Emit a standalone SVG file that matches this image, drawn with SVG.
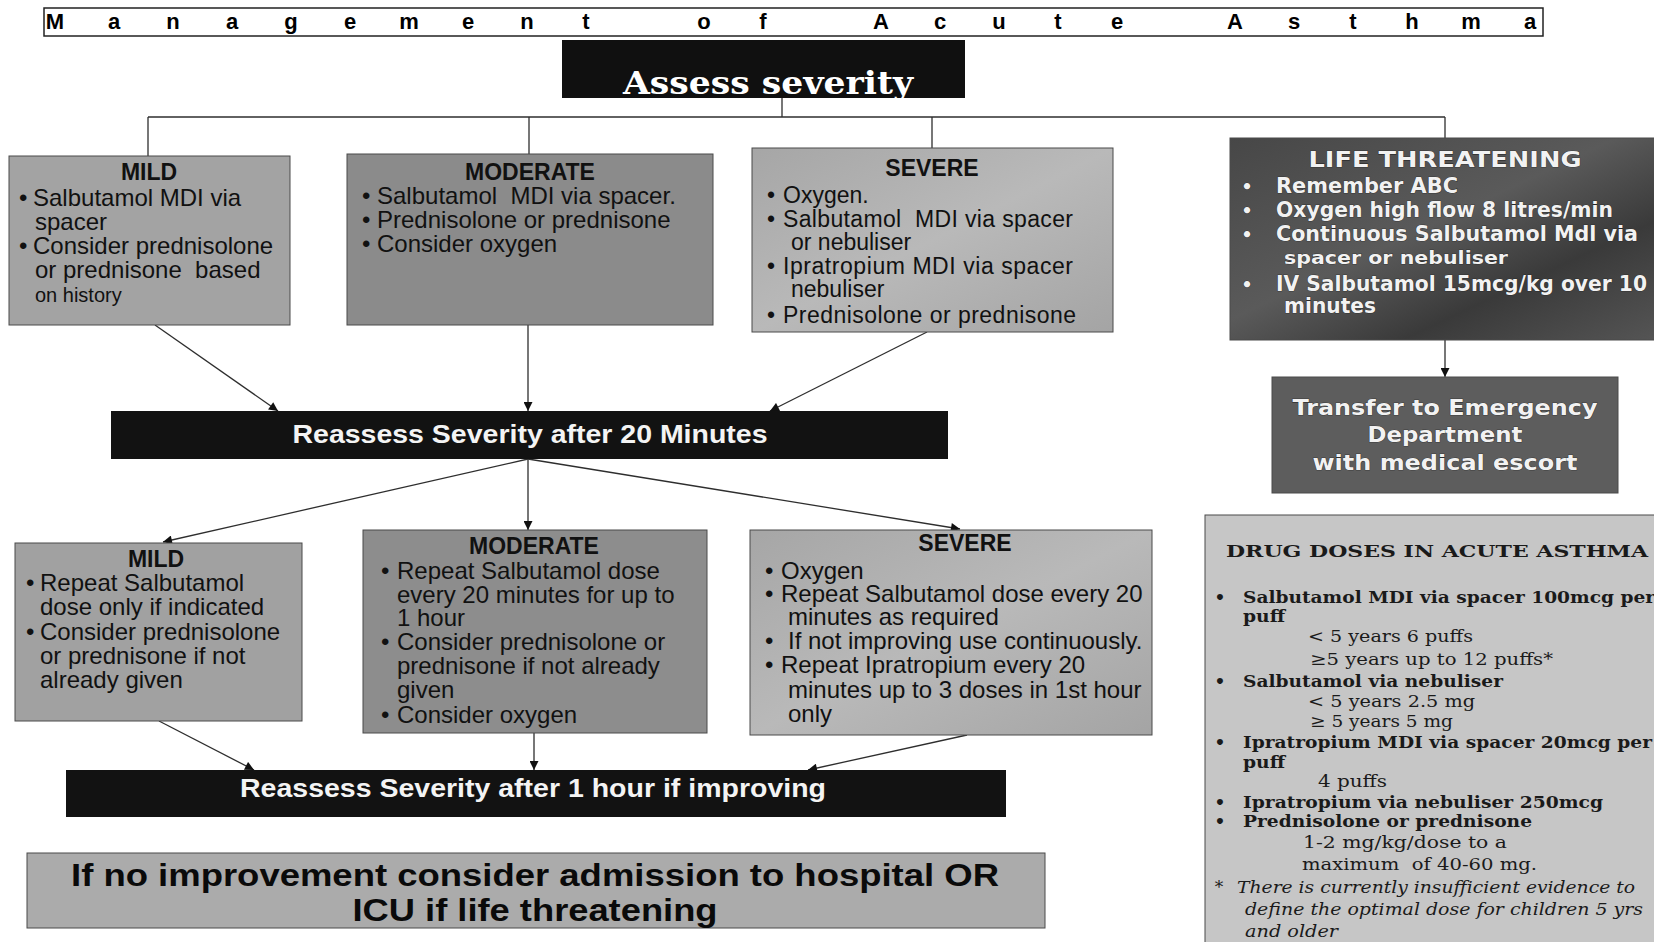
<svg xmlns="http://www.w3.org/2000/svg" width="1654" height="942" viewBox="0 0 1654 942">
  <style>
    .bg { fill: #ffffff; }
    .box { stroke: #4a4a4a; stroke-width: 1; }
    .ttl { font-family: "Liberation Sans", Arial, sans-serif; font-weight: bold; font-size: 22px; fill: #000; }
    .hd { font-family: "Liberation Sans", Arial, sans-serif; font-weight: bold; font-size: 23px; fill: #111; text-anchor: middle; }
    .tx { font-family: "Liberation Sans", Arial, sans-serif; font-size: 24px; fill: #111; }
    .tc { font-size: 23px; }
    .sm { font-size: 20px; }
    .bar { font-family: "Liberation Sans", Arial, sans-serif; font-weight: bold; fill: #f4f4f4; text-anchor: middle; }
    .big { font-family: "Liberation Sans", Arial, sans-serif; font-weight: bold; fill: #0a0a0a; text-anchor: middle; font-size: 31px; }
    .lt { font-family: "DejaVu Sans", Verdana, sans-serif; font-weight: bold; fill: #f2f2f2; stroke: #1c1c1c; stroke-width: 0.7; paint-order: stroke; }
    .ds { font-family: "DejaVu Serif", "Liberation Serif", serif; font-size: 17px; fill: #1a1a1a; }
    .dsb { font-weight: bold; }
    .dsi { font-style: italic; }
    .conn line { stroke: #2e2e2e; stroke-width: 1.3; fill: none; }
  </style>
  <defs>
    <marker id="arr" viewBox="0 0 10 10" refX="10" refY="5" markerWidth="11" markerHeight="9" markerUnits="userSpaceOnUse" orient="auto">
      <path d="M0,0 L10,5 L0,10 z" fill="#111"/>
    </marker>
    <linearGradient id="gLife" x1="0" y1="0" x2="1" y2="1">
      <stop offset="0" stop-color="#474747"/>
      <stop offset="0.45" stop-color="#5a5a5a"/>
      <stop offset="0.7" stop-color="#3a3a3a"/>
      <stop offset="1" stop-color="#555555"/>
    </linearGradient>
    <linearGradient id="gSev" x1="0" y1="0" x2="1" y2="1">
      <stop offset="0" stop-color="#a6a6a6"/>
      <stop offset="0.5" stop-color="#b9b9b9"/>
      <stop offset="1" stop-color="#a4a4a4"/>
    </linearGradient>
  </defs>

  <rect class="bg" x="0" y="0" width="1654" height="942"/>

  <!-- heading strip -->
  <g id="heading">
    <rect x="44" y="8" width="1499" height="28" fill="#fff" stroke="#222" stroke-width="1.5"/>
    <text class="ttl" text-anchor="middle" y="29" x="55 114 173 232 291 350 409 468 527 586 645 704 763 822 881 940 999 1058 1117 1176 1235 1294 1353 1412 1471 1530">Management of Acute Asthma</text>
  </g>

  <!-- connectors -->
  <g id="connectors" class="conn">
    <line x1="782" y1="98" x2="782" y2="117"/>
    <line x1="148" y1="117" x2="1445" y2="117"/>
    <line x1="148" y1="117" x2="148" y2="156"/>
    <line x1="529" y1="117" x2="529" y2="154"/>
    <line x1="932" y1="117" x2="932" y2="148"/>
    <line x1="1445" y1="117" x2="1445" y2="138"/>
    <line x1="1445" y1="340" x2="1445" y2="377" marker-end="url(#arr)"/>
    <line x1="155" y1="325" x2="278" y2="411" marker-end="url(#arr)"/>
    <line x1="528" y1="325" x2="528" y2="411" marker-end="url(#arr)"/>
    <line x1="927" y1="332" x2="770" y2="411" marker-end="url(#arr)"/>
    <line x1="528" y1="459" x2="163" y2="542" marker-end="url(#arr)"/>
    <line x1="528" y1="459" x2="528" y2="530" marker-end="url(#arr)"/>
    <line x1="528" y1="459" x2="960" y2="529" marker-end="url(#arr)"/>
    <line x1="159" y1="721" x2="254" y2="770" marker-end="url(#arr)"/>
    <line x1="534" y1="733" x2="534" y2="770" marker-end="url(#arr)"/>
    <line x1="967" y1="735" x2="808" y2="770" marker-end="url(#arr)"/>
  </g>

  <!-- start -->
  <g id="assess">
    <rect x="562" y="40" width="403" height="58" fill="#101010"/>
    <text x="768" y="94" text-anchor="middle" font-family="'DejaVu Serif', 'Liberation Serif', serif" font-weight="bold" font-size="31" fill="#fff" textLength="290" lengthAdjust="spacingAndGlyphs">Assess severity</text>
  </g>

  <!-- first assessment -->
  <g id="mild1">
    <rect class="box" x="9" y="156" width="281" height="169" fill="#a3a3a3"/>
    <text class="hd" x="149" y="180">MILD</text>
    <text class="tx" x="19" y="206">•</text>
    <text class="tx" x="33" y="206">Salbutamol MDI via</text>
    <text class="tx" x="35" y="230">spacer</text>
    <text class="tx" x="19" y="254">•</text>
    <text class="tx" x="33" y="254">Consider prednisolone</text>
    <text class="tx" x="35" y="278" xml:space="preserve">or prednisone  based</text>
    <text class="tx sm" x="35" y="302">on history</text>
  </g>

  <g id="moderate1">
    <rect class="box" x="347" y="154" width="366" height="171" fill="#8b8b8b"/>
    <text class="hd" x="530" y="180">MODERATE</text>
    <text class="tx" x="362" y="204">•</text>
    <text class="tx" x="377" y="204" xml:space="preserve">Salbutamol  MDI via spacer.</text>
    <text class="tx" x="362" y="228">•</text>
    <text class="tx" x="377" y="228">Prednisolone or prednisone</text>
    <text class="tx" x="362" y="252">•</text>
    <text class="tx" x="377" y="252">Consider oxygen</text>
  </g>

  <g id="severe1">
    <rect class="box" x="752" y="148" width="361" height="184" fill="url(#gSev)"/>
    <text class="hd" x="932" y="176">SEVERE</text>
    <text class="tx tc" x="767" y="203">•</text>
    <text class="tx tc" x="783" y="203">Oxygen.</text>
    <text class="tx tc" x="767" y="227">•</text>
    <text class="tx tc" x="783" y="227" xml:space="preserve" textLength="290" lengthAdjust="spacing">Salbutamol  MDI via spacer</text>
    <text class="tx tc" x="791" y="250">or nebuliser</text>
    <text class="tx tc" x="767" y="274">•</text>
    <text class="tx tc" x="783" y="274" textLength="290" lengthAdjust="spacing">Ipratropium MDI via spacer</text>
    <text class="tx tc" x="791" y="297">nebuliser</text>
    <text class="tx tc" x="767" y="323">•</text>
    <text class="tx tc" x="783" y="323" textLength="293" lengthAdjust="spacing">Prednisolone or prednisone</text>
  </g>

  <g id="life">
    <rect class="box" x="1230" y="138" width="430" height="202" fill="url(#gLife)"/>
    <text class="lt" x="1445" y="167" text-anchor="middle" font-size="22" textLength="273" lengthAdjust="spacingAndGlyphs">LIFE THREATENING</text>
    <text class="lt" x="1247" y="193" font-size="18" text-anchor="middle">•</text>
    <text class="lt" x="1276" y="193" font-size="20.5" textLength="182" lengthAdjust="spacingAndGlyphs">Remember ABC</text>
    <text class="lt" x="1247" y="217" font-size="18" text-anchor="middle">•</text>
    <text class="lt" x="1276" y="217" font-size="20.5" textLength="337" lengthAdjust="spacingAndGlyphs">Oxygen high flow 8 litres/min</text>
    <text class="lt" x="1247" y="241" font-size="18" text-anchor="middle">•</text>
    <text class="lt" x="1276" y="241" font-size="20.5" textLength="362" lengthAdjust="spacingAndGlyphs">Continuous Salbutamol Mdl via</text>
    <text class="lt" x="1284" y="264" font-size="18" textLength="224" lengthAdjust="spacingAndGlyphs">spacer or nebuliser</text>
    <text class="lt" x="1247" y="291" font-size="18" text-anchor="middle">•</text>
    <text class="lt" x="1276" y="291" font-size="20.5" textLength="371" lengthAdjust="spacingAndGlyphs">IV Salbutamol 15mcg/kg over 10</text>
    <text class="lt" x="1284" y="313" font-size="20.5" textLength="92" lengthAdjust="spacingAndGlyphs">minutes</text>
  </g>

  <g id="transfer">
    <rect class="box" x="1272" y="377" width="346" height="116" fill="#5d5d5d"/>
    <text class="lt" x="1445" y="415" text-anchor="middle" font-size="22" textLength="305" lengthAdjust="spacingAndGlyphs">Transfer to Emergency</text>
    <text class="lt" x="1445" y="442" text-anchor="middle" font-size="22" textLength="155" lengthAdjust="spacingAndGlyphs">Department</text>
    <text class="lt" x="1445" y="470" text-anchor="middle" font-size="22" textLength="265" lengthAdjust="spacingAndGlyphs">with medical escort</text>
  </g>

  <g id="reassess20">
    <rect x="111" y="411" width="837" height="48" fill="#121212"/>
    <text class="bar" x="530" y="443" font-size="26" textLength="475" lengthAdjust="spacingAndGlyphs">Reassess Severity after 20 Minutes</text>
  </g>

  <!-- second assessment -->
  <g id="mild2">
    <rect class="box" x="15" y="543" width="287" height="178" fill="#a1a1a1"/>
    <text class="hd" x="156" y="567">MILD</text>
    <text class="tx" x="26" y="591">•</text>
    <text class="tx" x="40" y="591">Repeat Salbutamol</text>
    <text class="tx" x="40" y="615">dose only if indicated</text>
    <text class="tx" x="26" y="640">•</text>
    <text class="tx" x="40" y="640">Consider prednisolone</text>
    <text class="tx" x="40" y="664">or prednisone if not</text>
    <text class="tx" x="40" y="688">already given</text>
  </g>

  <g id="moderate2">
    <rect class="box" x="363" y="530" width="344" height="203" fill="#8d8d8d"/>
    <text class="hd" x="534" y="554">MODERATE</text>
    <text class="tx" x="381" y="579">•</text>
    <text class="tx" x="397" y="579">Repeat Salbutamol dose</text>
    <text class="tx" x="397" y="603">every 20 minutes for up to</text>
    <text class="tx" x="397" y="626">1 hour</text>
    <text class="tx" x="381" y="650">•</text>
    <text class="tx" x="397" y="650">Consider prednisolone or</text>
    <text class="tx" x="397" y="674">prednisone if not already</text>
    <text class="tx" x="397" y="698">given</text>
    <text class="tx" x="381" y="723">•</text>
    <text class="tx" x="397" y="723">Consider oxygen</text>
  </g>

  <g id="severe2">
    <rect class="box" x="750" y="530" width="402" height="205" fill="url(#gSev)"/>
    <text class="hd" x="965" y="551">SEVERE</text>
    <text class="tx" x="765" y="579">•</text>
    <text class="tx" x="781" y="579">Oxygen</text>
    <text class="tx" x="765" y="602">•</text>
    <text class="tx" x="781" y="602">Repeat Salbutamol dose every 20</text>
    <text class="tx" x="788" y="625">minutes as required</text>
    <text class="tx" x="765" y="649">•</text>
    <text class="tx" x="788" y="649">If not improving use continuously.</text>
    <text class="tx" x="765" y="673">•</text>
    <text class="tx" x="781" y="673">Repeat Ipratropium every 20</text>
    <text class="tx" x="788" y="698">minutes up to 3 doses in 1st hour</text>
    <text class="tx" x="788" y="722">only</text>
  </g>

  <g id="reassess1h">
    <rect x="66" y="770" width="940" height="47" fill="#121212"/>
    <text class="bar" x="533" y="797" font-size="26" textLength="586" lengthAdjust="spacingAndGlyphs">Reassess Severity after 1 hour if improving</text>
  </g>

  <g id="admission">
    <rect class="box" x="27" y="853" width="1018" height="75" fill="#ababab"/>
    <text class="big" x="535" y="886" textLength="928" lengthAdjust="spacingAndGlyphs">If no improvement consider admission to hospital OR</text>
    <text class="big" x="535" y="921" textLength="365" lengthAdjust="spacingAndGlyphs">ICU if life threatening</text>
  </g>

  <!-- dose reference panel -->
  <g id="doses">
    <rect class="box" x="1205" y="515" width="460" height="440" fill="#c6c6c6"/>
    <text class="ds dsb" x="1226" y="557" font-size="21" textLength="422" lengthAdjust="spacingAndGlyphs">DRUG DOSES IN ACUTE ASTHMA</text>
    <text class="ds dsb" x="1220" y="603" text-anchor="middle">•</text>
    <text class="ds dsb" x="1243" y="603" textLength="412" lengthAdjust="spacingAndGlyphs">Salbutamol MDI via spacer 100mcg per</text>
    <text class="ds dsb" x="1243" y="622" textLength="42" lengthAdjust="spacingAndGlyphs">puff</text>
    <text class="ds" x="1308" y="642" textLength="165" lengthAdjust="spacingAndGlyphs">&lt; 5 years 6 puffs</text>
    <text class="ds" x="1310" y="665" textLength="243" lengthAdjust="spacingAndGlyphs">≥5 years up to 12 puffs*</text>
    <text class="ds dsb" x="1220" y="687" text-anchor="middle">•</text>
    <text class="ds dsb" x="1243" y="687" textLength="260" lengthAdjust="spacingAndGlyphs">Salbutamol via nebuliser</text>
    <text class="ds" x="1308" y="707" textLength="167" lengthAdjust="spacingAndGlyphs">&lt; 5 years 2.5 mg</text>
    <text class="ds" x="1310" y="727" textLength="143" lengthAdjust="spacingAndGlyphs">≥ 5 years 5 mg</text>
    <text class="ds dsb" x="1220" y="748" text-anchor="middle">•</text>
    <text class="ds dsb" x="1243" y="748" textLength="409" lengthAdjust="spacingAndGlyphs">Ipratropium MDI via spacer 20mcg per</text>
    <text class="ds dsb" x="1243" y="768" textLength="42" lengthAdjust="spacingAndGlyphs">puff</text>
    <text class="ds" x="1318" y="787" textLength="69" lengthAdjust="spacingAndGlyphs">4 puffs</text>
    <text class="ds dsb" x="1220" y="808" text-anchor="middle">•</text>
    <text class="ds dsb" x="1243" y="808" textLength="360" lengthAdjust="spacingAndGlyphs">Ipratropium via nebuliser 250mcg</text>
    <text class="ds dsb" x="1220" y="827" text-anchor="middle">•</text>
    <text class="ds dsb" x="1243" y="827" textLength="289" lengthAdjust="spacingAndGlyphs">Prednisolone or prednisone</text>
    <text class="ds" x="1303" y="848" textLength="204" lengthAdjust="spacingAndGlyphs">1-2 mg/kg/dose to a</text>
    <text class="ds" x="1302" y="870" textLength="235" lengthAdjust="spacingAndGlyphs" xml:space="preserve">maximum  of 40-60 mg.</text>
    <text class="ds" x="1219" y="893" text-anchor="middle">*</text>
    <text class="ds dsi" x="1237" y="893" textLength="398" lengthAdjust="spacingAndGlyphs">There is currently insufficient evidence to</text>
    <text class="ds dsi" x="1245" y="915" textLength="398" lengthAdjust="spacingAndGlyphs">define the optimal dose for children 5 yrs</text>
    <text class="ds dsi" x="1245" y="937" textLength="93" lengthAdjust="spacingAndGlyphs">and older</text>
  </g>
</svg>
